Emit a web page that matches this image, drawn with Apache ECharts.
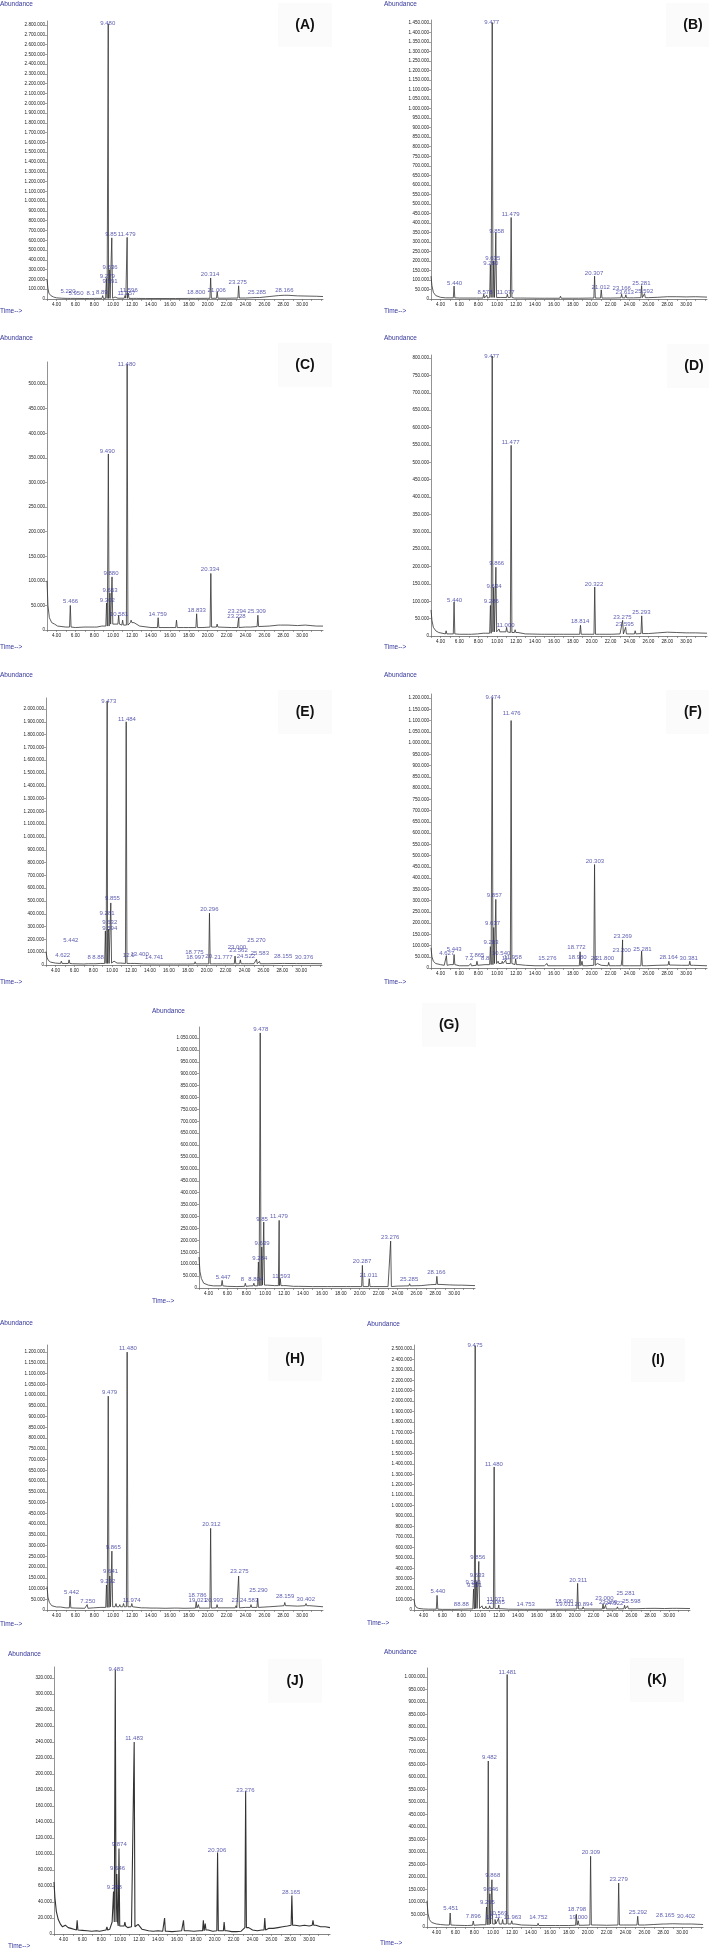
<!DOCTYPE html>
<html><head><meta charset="utf-8">
<script src="https://cdn.jsdelivr.net/npm/echarts@6/dist/echarts.min.js"></script>
<style>html,body{margin:0;padding:0;background:#fff}#c{width:709px;height:1950px}</style>
</head><body><div id="c"></div><script>
// ---------- DATA ----------
const xTickLabels = [4,6,8,10,12,14,16,18,20,22,24,26,28,30];
const xTickMarks = [3,4,5,6,7,8,9,10,11,12,13,14,15,16,17,18,19,20,21,22,23,24,25,26,27,28,29,30,31,32];
const panelNames = ['A','B','C','D','E','F','G','H','I','J','K'];

const baseA = [[3.0,200000],[3.1,110000],[3.2,60000],[3.4,35000],[3.7,20000],[4.0,12000],[4.5,8000],[5.5,6000],[7,5000],[9,6000],[10.5,8000],[12.5,6000],[14,5000],[16,5000],[18,6000],[20,7000],[22,8000],[24,10000],[25.5,15000],[26.5,25000],[27.5,35000],[28.5,38000],[29.5,32000],[30.5,30000],[31.5,28000],[32.2,25000]];
const peaksA = [[4.6,22000],[5.22,18000],[5.95,15000],[7.6,12000],[8.1,15000],[8.89,35000],[9.279,210000],[9.48,2810000],[9.591,150000],[9.636,300000],[9.855,625000],[10.2,20000],[11.257,35000],[11.479,630000],[11.596,60000],[12.2,12000],[13.5,8000],[16.7,10000],[18.8,20000],[20.314,215000],[21.006,75000],[23.275,135000],[25.285,28000],[28.166,45000]];
const labelsA = [[9.43,2820000,'9.480'],[9.77,661000,'9.85'],[11.43,661000,'11.479'],[9.67,327000,'9.636'],[9.38,228000,'9.279'],[9.67,184000,'9.591'],[11.65,92000,'11.596'],[11.4,58000,'11.257'],[8.79,72000,'8.89'],[7.62,58000,'8.1'],[6.07,58000,'5.950'],[5.22,82000,'5.220'],[18.77,65000,'18.800'],[20.25,249000,'20.314'],[20.96,89000,'21.006'],[23.18,167000,'23.275'],[25.22,65000,'25.285'],[28.11,92000,'28.166']];

const baseB = [[3.0,120000],[3.1,70000],[3.25,35000],[3.5,18000],[4,9000],[5,6000],[6,5000],[8,5000],[10.5,8000],[12.5,5000],[15,4000],[18,4000],[20,5000],[22,5000],[24,6000],[26,7000],[27,9000],[28,12000],[29,12000],[30,11000],[31,12000],[32.2,10000]];
const peaksB = [[4.6,12000],[5.44,68000],[7.9,15000],[8.578,25000],[8.9,20000],[9.28,180000],[9.477,1452000],[9.635,200000],[9.858,350000],[10.4,15000],[11.077,25000],[11.479,428000],[11.9,15000],[14.6,10000],[16.7,15000],[18.7,12000],[20.307,120000],[21.012,48000],[23.166,25000],[23.613,22000],[24.5,10000],[25.281,70000],[25.592,28000]];
const labelsB = [[9.42,1453000,'9.477'],[11.43,443000,'11.479'],[9.95,355000,'9.858'],[9.53,212000,'9.635'],[9.32,189000,'9.280'],[5.5,80000,'5.440'],[8.71,35000,'8.578'],[10.9,35000,'11.077'],[20.25,133000,'20.307'],[20.96,63000,'21.012'],[23.18,56000,'23.166'],[23.5,37000,'23.613'],[25.25,84000,'25.281'],[25.54,42000,'25.592']];

const baseC = [[3.0,100000],[3.1,50000],[3.25,25000],[3.5,15000],[3.8,12000],[4.2,8000],[5,6000],[6,5000],[7,6000],[8,6000],[8.8,8000],[10.2,12000],[11,10000],[12.2,15000],[12.8,8000],[14,5000],[16,5000],[18,5000],[19.5,5000],[21,6000],[22.5,5000],[24,6000],[25.5,7000],[26.5,8000],[27.5,10000],[28.5,10000],[29.5,9000],[30.5,10000],[31.5,8000],[32.2,8000]];
const peaksC = [[4.2,10000],[5.466,50000],[7.0,8000],[8.2,9000],[9.302,55000],[9.49,358000],[9.653,75000],[9.88,108000],[10.581,30000],[11.0,20000],[11.48,540000],[11.9,20000],[14.759,25000],[16.7,20000],[17.5,8000],[18.833,33000],[20.334,115000],[21.0,12000],[23.228,18000],[23.294,25000],[24.6,10000],[25.309,30000],[27.8,13000],[30.4,14000]];
const labelsC = [[11.43,540000,'11.480'],[9.38,364000,'9.490'],[9.77,115000,'9.880'],[9.67,81000,'9.653'],[9.38,60000,'9.302'],[5.5,58000,'5.466'],[10.62,32000,'10.581'],[14.71,32000,'14.759'],[18.84,40000,'18.833'],[20.25,123000,'20.334'],[23.1,37000,'23.294'],[23.05,28000,'23.228'],[25.19,37000,'25.309']];

const baseD = [[3.0,75000],[3.1,45000],[3.25,25000],[3.5,15000],[4,10000],[5,6000],[6,5000],[7,5000],[8,6000],[8.8,8000],[10.3,12000],[12.2,10000],[13,6000],[15,5000],[17,5000],[19.5,5000],[21.5,5000],[23,6000],[24,6000],[26,7000],[27,9000],[28,11000],[29,10000],[30,9000],[31,9000],[32.2,8000]];
const peaksD = [[3.9,15000],[4.6,15000],[5.44,98000],[7.2,8000],[8.0,10000],[8.6,12000],[9.286,88000],[9.477,806000],[9.634,140000],[9.866,198000],[10.2,20000],[10.6,15000],[11.0,25000],[11.477,549000],[11.9,18000],[14.8,10000],[16.7,8000],[18.814,31000],[20.322,141000],[20.9,10000],[22.2,8000],[23.275,45000],[23.595,25000],[24.6,15000],[25.293,58000],[30.4,12000]];
const labelsD = [[9.42,806000,'9.477'],[11.43,558000,'11.477'],[9.95,208000,'9.866'],[9.67,144000,'9.634'],[9.38,101000,'9.286'],[5.5,103000,'5.440'],[10.9,31000,'11.000'],[18.77,42000,'18.814'],[20.25,148000,'20.322'],[23.25,55000,'23.275'],[23.5,33000,'23.595'],[25.25,67000,'25.293']];

const baseE = [[3.0,105000],[3.1,60000],[3.25,35000],[3.5,22000],[4,15000],[5,12000],[6,10000],[7,8000],[8,10000],[8.8,12000],[10.4,15000],[12.4,12000],[13.5,9000],[15,8000],[16.5,8000],[18,8000],[19.5,9000],[21,9000],[22.5,9000],[24,10000],[25,10000],[26.5,10000],[28,12000],[29.5,11000],[31,11000],[32.2,10000]];
const peaksE = [[4.622,30000],[5.442,40000],[5.9,15000],[7.56,15000],[8.2,18000],[8.88,25000],[9.281,265000],[9.473,2060000],[9.594,255000],[9.632,280000],[9.855,485000],[10.2,30000],[10.6,25000],[11.0,30000],[11.484,1900000],[12.0,25000],[13.4,18000],[14.741,15000],[16.7,15000],[18.775,25000],[18.997,20000],[20.296,405000],[20.55,20000],[21.777,15000],[23.0,70000],[23.562,40000],[24.522,22000],[25.27,45000],[25.583,28000],[28.155,18000],[30.376,16000]];
const labelsE = [[9.64,2062000,'9.473'],[11.57,1919000,'11.484'],[10.03,521000,'9.855'],[9.46,401000,'9.281'],[9.74,336000,'9.632'],[9.74,286000,'9.594'],[5.63,190000,'5.442'],[4.76,78000,'4.622'],[8.51,57000,'8.88'],[7.56,57000,'8'],[11.75,78000,'12.0'],[12.9,86000,'13.400'],[14.45,57000,'14.741'],[18.7,96000,'18.775'],[18.8,57000,'18.997'],[20.28,432000,'20.296'],[20.3,65000,'20.'],[21.76,57000,'21.777'],[23.2,140000,'23.000'],[23.37,112000,'23.562'],[24.15,65000,'24.522'],[25.27,190000,'25.270'],[25.62,88000,'25.583'],[28.08,65000,'28.155'],[30.3,57000,'30.376']];

const baseF = [[3.0,90000],[3.1,50000],[3.25,30000],[3.5,20000],[4,15000],[4.4,12000],[5,15000],[6,10000],[7,10000],[8,12000],[8.8,15000],[10.3,20000],[11,20000],[12.3,15000],[13,12000],[14,10000],[15,10000],[16.5,10000],[17.5,10000],[19.5,10000],[21,12000],[22.5,10000],[24,10000],[25.8,10000],[27,12000],[28.5,13000],[29.5,12000],[30.8,12000],[32.2,10000]];
const peaksF = [[4.627,55000],[5.443,60000],[7.2,20000],[7.865,30000],[8.8,20000],[9.283,95000],[9.474,1200000],[9.637,180000],[9.857,305000],[10.1,30000],[10.54,30000],[10.9,35000],[11.476,1100000],[11.958,40000],[15.276,20000],[16.5,12000],[18.772,72000],[18.98,30000],[20.303,460000],[20.6,20000],[21.8,25000],[23.2,40000],[23.269,125000],[25.281,75000],[28.164,30000],[30.381,30000]];
const labelsF = [[9.56,1201000,'9.474'],[11.54,1133000,'11.476'],[20.34,475000,'20.303'],[9.7,323000,'9.857'],[9.52,197000,'9.637'],[9.35,116000,'9.283'],[4.67,67000,'4.627'],[5.45,81000,'5.443'],[7.04,44000,'7.2'],[7.86,56000,'7.865'],[8.74,41000,'8.8'],[10.42,64000,'10.540'],[10.9,44000,'11.'],[11.65,49000,'11.958'],[15.31,41000,'15.276'],[18.39,90000,'18.772'],[18.5,49000,'18.980'],[20.34,41000,'20.'],[21.4,41000,'21.800'],[23.29,141000,'23.269'],[23.18,78000,'23.200'],[25.37,81000,'25.281'],[28.14,49000,'28.164'],[30.27,44000,'30.381']];

const baseG = [[3.0,130000],[3.1,70000],[3.25,40000],[3.5,20000],[4,12000],[5,9000],[6,7000],[7,6000],[8,7000],[8.8,9000],[10.3,12000],[11,10000],[12.2,10000],[13,7000],[15,6000],[17,6000],[19,6000],[21.5,6000],[23,6000],[24,8000],[25.5,9000],[26.5,10000],[27.5,14000],[28.5,15000],[29.5,13000],[30.8,12000],[32.2,10000]];
const peaksG = [[4.6,15000],[5.447,32000],[7.9,20000],[8.5,15000],[8.804,20000],[9.284,109000],[9.478,1071000],[9.639,172000],[9.85,277000],[10.3,15000],[11.479,284000],[11.593,40000],[12.0,15000],[13.6,8000],[16.7,10000],[18.7,12000],[20.287,95000],[21.011,39000],[23.276,197000],[25.285,18000],[28.166,49000],[30.4,18000]];
const labelsG = [[9.53,1085000,'9.478'],[9.67,290000,'9.85'],[11.46,300000,'11.479'],[9.67,189000,'9.639'],[9.43,126000,'9.284'],[5.56,46000,'5.447'],[7.6,35000,'8'],[9.0,35000,'8.804'],[11.71,50000,'11.593'],[20.25,113000,'20.287'],[20.95,52000,'21.011'],[23.23,211000,'23.276'],[25.23,38000,'25.285'],[28.11,66000,'28.166']];

const baseH = [[3.0,110000],[3.1,60000],[3.25,35000],[3.5,20000],[4,14000],[5,10000],[6,9000],[7,8000],[8,10000],[8.8,12000],[10.2,15000],[11,15000],[12.2,15000],[13,10000],[14,9000],[15.5,8000],[16.5,9000],[17.5,8000],[19.5,9000],[21.5,10000],[23,10000],[24,12000],[25.5,12000],[26.5,15000],[27.5,18000],[28.5,20000],[29.5,18000],[30.8,20000],[32.2,15000]];
const peaksH = [[4.5,15000],[5.442,65000],[7.25,25000],[8.0,15000],[8.7,20000],[9.292,116000],[9.479,995000],[9.641,158000],[9.865,274000],[10.3,30000],[10.7,25000],[11.1,30000],[11.48,1200000],[11.974,30000],[13.5,12000],[14.7,15000],[16.7,15000],[18.786,39000],[19.021,25000],[20.312,380000],[20.993,25000],[23.0,20000],[23.275,158000],[24.583,25000],[25.29,55000],[28.159,35000],[30.402,30000]];
const labelsH = [[11.56,1218000,'11.480'],[9.62,1011000,'9.479'],[20.39,397000,'20.312'],[10.01,293000,'9.865'],[23.36,178000,'23.275'],[9.73,178000,'9.641'],[9.44,132000,'9.292'],[25.37,93000,'25.290'],[5.6,81000,'5.442'],[18.91,68000,'18.786'],[28.19,62000,'28.159'],[30.38,50000,'30.402'],[11.95,47000,'11.974'],[7.32,39000,'7.250'],[18.95,43000,'19.021'],[20.67,43000,'20.993'],[22.97,43000,'23.'],[24.38,43000,'24.583']];

const baseI = [[3.0,100000],[3.1,50000],[3.25,25000],[3.5,15000],[4,10000],[5,8000],[6,6000],[7,6000],[8,8000],[8.8,10000],[10.3,15000],[11,15000],[12.3,12000],[13,8000],[15,7000],[17,7000],[19,8000],[21,10000],[22.5,9000],[24,10000],[25.5,12000],[26.5,12000],[27.5,15000],[28.5,16000],[29.5,14000],[30.8,16000],[32.2,14000]];
const peaksI = [[4.6,12000],[5.44,140000],[7.4,15000],[8.19,20000],[8.88,25000],[9.3,200000],[9.475,2530000],[9.591,205000],[9.633,270000],[9.856,465000],[10.2,40000],[10.6,35000],[11.0,40000],[11.48,1370000],[11.971,48000],[12.085,30000],[14.753,15000],[16.7,12000],[18.9,25000],[19.011,20000],[20.311,255000],[20.894,30000],[23.0,60000],[23.269,45000],[24.522,30000],[25.281,45000],[25.598,40000],[30.4,20000]];
const labelsI = [[9.46,2538000,'9.475'],[11.45,1399000,'11.480'],[9.75,501000,'9.856'],[9.68,332000,'9.633'],[9.25,268000,'9.300'],[9.4,239000,'9.591'],[5.53,176000,'5.440'],[7.38,54000,'8'],[8.19,54000,'8.88'],[11.63,102000,'11.971'],[11.63,70000,'12.085'],[14.82,54000,'14.753'],[18.89,86000,'18.900'],[18.96,54000,'19.011'],[20.37,281000,'20.311'],[20.94,54000,'20.894'],[23.14,112000,'23.000'],[23.54,77000,'23.269'],[24.18,64000,'24.522'],[25.39,160000,'25.281'],[26.0,80000,'25.598']];

const baseJ = [[3.0,65000],[3.1,45000],[3.25,28000],[3.45,18000],[3.7,12000],[3.9,9000],[4.2,11000],[4.5,8000],[4.8,7000],[5.1,6000],[5.6,5000],[6.0,4500],[6.5,4000],[7.0,3500],[7.5,4000],[8.0,3500],[8.5,5000],[8.9,6000],[9.15,15000],[10.2,10000],[10.8,8000],[11.2,9000],[11.9,12000],[12.3,6000],[13,4000],[13.5,3500],[14,4000],[14.5,3500],[15,3500],[15.5,3000],[16,3500],[16.5,4000],[17.2,4000],[17.8,3500],[18.4,4000],[19.3,5000],[19.8,3500],[20.7,4000],[21.3,4000],[21.8,3000],[22.3,3000],[22.8,3500],[23.6,8000],[24,5000],[24.5,4000],[25.0,5000],[25.7,7000],[26.2,7000],[26.7,8000],[27.2,9000],[27.7,10000],[28.5,11000],[29,10000],[29.5,11000],[30,10000],[30.7,11000],[31.2,9000],[31.7,9000],[32.2,8000]];
const peaksJ = [[4.6,8000],[5.45,17000],[7.9,6000],[8.6,9000],[9.298,53000],[9.483,330000],[9.646,75000],[9.874,107000],[10.5,15000],[11.483,240000],[14.7,20000],[16.7,17000],[18.8,17000],[19.0,13000],[20.306,102000],[21.0,15000],[23.276,178000],[25.3,20000],[28.165,48000],[30.4,17000]];
const labelsJ = [[9.56,331000,'9.483'],[11.48,245000,'11.483'],[23.24,180000,'23.276'],[9.9,112000,'9.874'],[20.25,105000,'20.306'],[9.73,82000,'9.646'],[9.38,58000,'9.298'],[28.08,52000,'28.165']];

const baseK = [[3.0,105000],[3.1,55000],[3.25,30000],[3.5,18000],[4,12000],[4.5,10000],[5,8000],[6,7000],[7,6000],[8,7000],[8.8,9000],[10.2,12000],[11,12000],[12.3,12000],[13,8000],[14,7000],[15.5,6000],[17,6000],[18,6000],[19.5,7000],[21,8000],[22,7000],[23.8,8000],[25,8000],[26,8000],[27,10000],[28,12000],[29,13000],[30,12000],[31,12000],[32.2,10000]];
const peaksK = [[4.5,12000],[5.451,56000],[7.2,8000],[7.896,24000],[8.8,15000],[9.295,80000],[9.482,664000],[9.646,133000],[9.868,189000],[10.2,30000],[10.569,35000],[11.0,30000],[11.481,1010000],[11.963,25000],[14.752,15000],[16.7,12000],[18.798,51000],[19.0,25000],[20.309,283000],[21.0,12000],[23.279,176000],[25.292,43000],[28.165,20000],[30.402,20000]];
const labelsK = [[11.51,1020000,'11.481'],[9.6,677000,'9.482'],[20.34,297000,'20.309'],[9.96,205000,'9.868'],[23.27,189000,'23.279'],[9.75,149000,'9.646'],[9.39,100000,'9.295'],[5.51,73000,'5.451'],[18.86,69000,'18.798'],[25.32,57000,'25.292'],[28.21,45000,'28.165'],[30.4,43000,'30.402'],[7.9,43000,'7.896'],[12.04,40000,'11.963'],[14.79,37000,'14.752'],[19.03,37000,'19.000'],[10.55,56000,'10.569'],[9.6,37000,'10'],[10.55,43000,'11.']];

// ---------- LAYOUT ----------
const layout = {
  A:{left:47, top:21, height:278, ymax:2841000, step:100000, title:[305,25], abund:[0,4], time:[0,311]},
  B:{left:431,top:20, height:279, ymax:1466000, step:50000, title:[693,25], abund:[384,4], time:[384,311]},
  C:{left:47, top:362,height:268, ymax:545000, step:50000, title:[305,365], abund:[0,338], time:[0,647]},
  D:{left:431,top:355,height:281, ymax:809000, step:50000, title:[694,366], abund:[384,338], time:[384,647]},
  E:{left:46, top:698,height:267, ymax:2086000, step:100000, title:[305,712], abund:[0,675], time:[0,982]},
  F:{left:431,top:694,height:274, ymax:1218000, step:50000, title:[693,712], abund:[384,675], time:[384,982]},
  G:{left:199,top:1027,height:261, ymax:1096000, step:50000, title:[449,1025], abund:[152,1011], time:[152,1301]},
  H:{left:47, top:1345,height:265, ymax:1233000, step:50000, title:[295,1359], abund:[0,1323], time:[0,1624]},
  I:{left:414,top:1345,height:265, ymax:2538000, step:100000, title:[658,1360], abund:[367,1324], time:[367,1623]},
  J:{left:54, top:1667,height:267, ymax:333800, step:20000, title:[295,1681], abund:[8,1654], time:[8,1946]},
  K:{left:427,top:1668,height:259, ymax:1036000, step:50000, title:[657,1680], abund:[384,1652], time:[380,1943]}
};
const PLOT_W = 276, XMIN = 3, XMAX = 32.2, HALF = 0.08;
const lineWidths = {J:1.1};
const dataSets = {
  A:[baseA,peaksA,labelsA],B:[baseB,peaksB,labelsB],C:[baseC,peaksC,labelsC],D:[baseD,peaksD,labelsD],
  E:[baseE,peaksE,labelsE],F:[baseF,peaksF,labelsF],G:[baseG,peaksG,labelsG],H:[baseH,peaksH,labelsH],
  I:[baseI,peaksI,labelsI],J:[baseJ,peaksJ,labelsJ],K:[baseK,peaksK,labelsK]
};
const BLUE = '#35359c', FONT = '"Liberation Sans", Arial, sans-serif';

function fmtY(v){ if (v === 0) return '0'; return String(Math.round(v)).replace(/\B(?=(\d{3})+(?!\d))/g, '.'); }
function nearestBase(base, t){
  let best = base[0];
  for (const b of base) if (Math.abs(b[0]-t) < Math.abs(best[0]-t)) best = b;
  return best[1];
}
function trace(base, peaks){
  const pts = base.map(p => [p[0], p[1]]);
  for (const p of peaks){
    const f = nearestBase(base, p[0]);
    pts.push([p[0]-HALF, f], [p[0], p[1]], [p[0]+HALF, f]);
  }
  pts.sort((a,b) => a[0]-b[0]);
  return pts.filter(p => p[0] >= XMIN && p[0] <= XMAX);
}

const grids = [], xAxes = [], yAxes = [], series = [], graphics = [];
panelNames.forEach((k, i) => {
  const L = layout[k], [base, peaks, labels] = dataSets[k];
  grids.push({left:L.left, top:L.top, width:PLOT_W, height:L.height, outerBoundsMode:'none', containLabel:false});
  xAxes.push({type:'value', gridIndex:i, min:XMIN, max:XMAX,
    axisLine:{show:true, onZero:false, lineStyle:{color:'#666', width:0.8}},
    axisTick:{show:true, length:2, customValues:xTickMarks, lineStyle:{color:'#666', width:0.6}},
    axisLabel:{show:true, customValues:xTickLabels, formatter:v => v.toFixed(2), fontSize:4.7, color:'#222', margin:3, fontFamily:FONT},
    splitLine:{show:false}});
  yAxes.push({type:'value', gridIndex:i, min:0, max:L.ymax, interval:L.step,
    axisLine:{show:true, lineStyle:{color:'#777', width:0.8}},
    axisTick:{show:true, length:2, lineStyle:{color:'#666', width:0.6}},
    axisLabel:{show:true, showMaxLabel:false, formatter:v => (Math.round(v) % L.step === 0 ? fmtY(v) : ''), fontSize:4.6, color:'#222', margin:2, fontFamily:FONT},
    splitLine:{show:false}});
  series.push({type:'line', xAxisIndex:i, yAxisIndex:i, data:trace(base, peaks), showSymbol:false, symbol:'none',
    lineStyle:{color:'#333', width:lineWidths[k] || 0.8}, clip:true, silent:true, z:2});
  series.push({type:'scatter', xAxisIndex:i, yAxisIndex:i, symbolSize:1, itemStyle:{color:'rgba(0,0,0,0)'}, silent:true, z:5,
    data:labels.map(l => ({value:[l[0], l[1]], name:l[2]})),
    label:{show:true, position:'inside', formatter:p => p.name, fontSize:6, color:BLUE, fontFamily:FONT}});
  graphics.push({type:'rect', shape:{x:L.title[0]-27, y:Math.max(0, L.title[1]-22), width:54, height:44}, style:{fill:'#fbfbfb'}, z:0, silent:true});
  graphics.push({type:'text', x:L.title[0], y:L.title[1], z:10, style:{text:'('+k+')', font:'bold 14px '+FONT, fill:'#111', textAlign:'center', textVerticalAlign:'middle', align:'center', verticalAlign:'middle'}});
  graphics.push({type:'text', x:L.abund[0], y:L.abund[1], z:10, style:{text:'Abundance', font:'6.5px '+FONT, fill:BLUE, textAlign:'left', textVerticalAlign:'middle', align:'left', verticalAlign:'middle'}});
  graphics.push({type:'text', x:L.time[0], y:L.time[1], z:10, style:{text:'Time-->', font:'6.5px '+FONT, fill:BLUE, textAlign:'left', textVerticalAlign:'middle', align:'left', verticalAlign:'middle'}});
});

const chart = echarts.init(document.getElementById('c'), null, {renderer:'canvas'});
chart.setOption({animation:false, backgroundColor:'#ffffff', grid:grids, xAxis:xAxes, yAxis:yAxes, series:series, graphic:{elements:graphics}});
</script></body></html>
